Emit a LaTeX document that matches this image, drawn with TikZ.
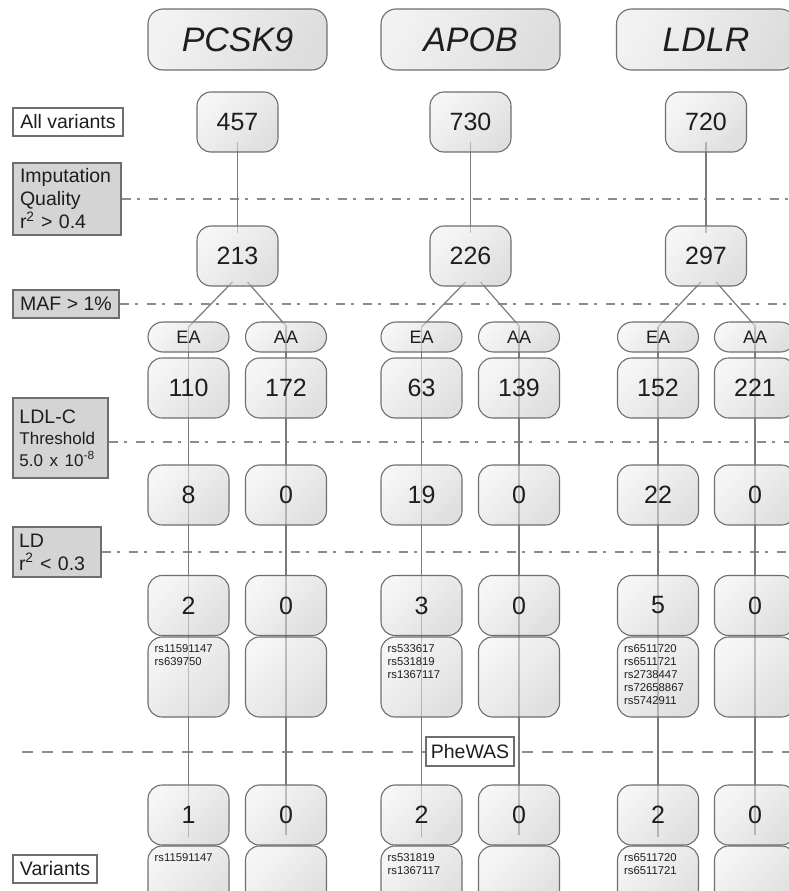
\documentclass[tikz,border=0pt]{standalone}
\usepackage{fontspec}
\setmainfont{Liberation Sans}
\usetikzlibrary{calc}
\definecolor{bd}{HTML}{6E6E6E}
\definecolor{cn}{HTML}{7A7A7A}
\definecolor{dl}{HTML}{8C8C8C}
\definecolor{bt}{HTML}{F0F0F0}
\definecolor{bm}{HTML}{E8E8E8}
\definecolor{bb}{HTML}{CCCCCC}
\definecolor{ht}{HTML}{F2F2F2}
\definecolor{hb}{HTML}{DDDDDD}
\definecolor{gf}{HTML}{D4D4D4}
\definecolor{tx}{HTML}{1E1E1E}
\newcommand\fsz[2]{\fontsize{#1}{#2}\selectfont}
\begin{document}
\begin{tikzpicture}[x=1pt,y=-1pt,
  box/.style={draw=bd, line width=1.1pt, rounded corners=14pt,
    top color=bt, middle color=bm, bottom color=bb, shading angle=45,
    fill opacity=0.62, text opacity=1, text=tx, inner sep=0pt},
  hdr/.style={draw=bd, line width=1.1pt, top color=ht, bottom color=hb, shading angle=60, text=tx, inner sep=0pt, rounded corners=15pt, minimum width=179pt, minimum height=61pt, font=\fsz{34}{40}\itshape},
  num/.style={box, minimum width=81pt, minimum height=60pt, font=\fsz{25}{30}},
  pill/.style={box, rounded corners=15pt, minimum width=81pt, minimum height=30pt, font=\fsz{18}{20}},
  rsbox/.style={box, minimum width=81pt, minimum height=80pt},
  rsbox2/.style={box, minimum width=81pt, minimum height=62pt},
  rslab/.style={anchor=north west, xshift=7pt, yshift=-8pt, align=left, inner sep=0pt, font=\fsz{11.3}{13}, text=tx},
  glab/.style={draw=bd, line width=1.1pt, fill=gf, text=tx, align=left, inner sep=0pt, font=\fsz{19.5}{23}},
  wlab/.style={draw=bd, line width=1.1pt, fill=white, text=tx, inner sep=0pt, font=\fsz{19.5}{23}},
  conn/.style={draw=cn, line width=1.2pt},
  dd/.style={draw=dl, line width=1.6pt, dash pattern=on 9pt off 6pt on 3pt off 9pt},
  ph/.style={draw=dl, line width=1.6pt, dash pattern=on 11pt off 9pt}]
\useasboundingbox (0,0) rectangle (789,891);
\clip (0,0) rectangle (789,891);
\coordinate (R) at (789,0);

% label boxes
\node[wlab, minimum width=110pt, minimum height=28pt] (allv) at (68,122) {All variants};
\node[glab, minimum width=108pt, minimum height=72pt, text width=94pt] (imp) at (67,199) {Imputation\\Quality\\r\textsuperscript{2} \textgreater{} 0.4};
\node[glab, minimum width=106pt, minimum height=28pt] (maf) at (66,304) {MAF \textgreater{} 1\%};
\node[glab, minimum width=95pt, minimum height=80pt, text width=82pt] (ldl) at (60.5,438) {LDL-C\\[-2pt]{\fsz{17}{20}Threshold}\\[-1pt]{\fsz{17}{20}5.0 x 10\textsuperscript{-8}}};
\node[glab, minimum width=88pt, minimum height=50pt, text width=76pt] (ld) at (57,552) {LD\\r\textsuperscript{2} \textless{} 0.3};
\node[wlab, minimum width=84pt, minimum height=28pt] (var) at (55,869) {Variants};
\coordinate (phl) at (22,752);

% dashed lines
\draw[dd] (imp.east) -- (imp.east -| R);
\draw[dd] (maf.east) -- (maf.east -| R);
\draw[dd] ($(ldl.east)+(0,4)$) -- ($(ldl.east -| R)+(0,4)$);
\draw[dd] (ld.east) -- (ld.east -| R);
\draw[ph] (phl) -- (phl -| R);

% headers
\node[hdr] (hP) at (237.5,39.5) {PCSK9};
\node[hdr] (hA) at (470.5,39.5) {APOB};
\node[hdr] (hL) at (706,39.5) {LDLR};

% connectors
\foreach \id/\cx/\ex/\ax in {P/237.5/188.5/286, A/470.5/421.5/519, L/706/658/755}{
  \draw[conn] (\cx,142) -- (\cx,233);
  \draw[conn] (\cx-5,282) -- (\ex,327);
  \draw[conn] (\cx+10,282) -- (\ax+1,327);
  \draw[conn] (\ex,327) -- (\ex,837);
  \draw[conn] (\ax,327) -- (\ax,835);
}

% PCSK9 column
\node[num] (allP) at (237.5,122) {457};
\node[num] (impP) at (237.5,256) {213};
\node[pill] (eaP) at (188.5,337) {EA};
\node[pill] (aaP) at (286,337) {AA};
\node[num] (e1P) at (188.5,388) {110};
\node[num] (a1P) at (286,388) {172};
\node[num] (e2P) at (188.5,495) {8};
\node[num] (a2P) at (286,495) {0};
\node[num] (e3P) at (188.5,605.5) {2};
\node[num] (a3P) at (286,605.5) {0};
\node[rsbox, label={[rslab]north west:rs11591147\\rs639750}] (ersP) at (188.5,677) {};
\node[rsbox] (arsP) at (286,677) {};
\node[num] (e4P) at (188.5,815) {1};
\node[num] (a4P) at (286,815) {0};
\node[rsbox2, label={[rslab]north west:rs11591147}] (ers2P) at (188.5,877) {};
\node[rsbox2] (ars2P) at (286,877) {};

% APOB column
\node[num] (allA) at (470.5,122) {730};
\node[num] (impA) at (470.5,256) {226};
\node[pill] (eaA) at (421.5,337) {EA};
\node[pill] (aaA) at (519,337) {AA};
\node[num] (e1A) at (421.5,388) {63};
\node[num] (a1A) at (519,388) {139};
\node[num] (e2A) at (421.5,495) {19};
\node[num] (a2A) at (519,495) {0};
\node[num] (e3A) at (421.5,605.5) {3};
\node[num] (a3A) at (519,605.5) {0};
\node[rsbox, label={[rslab]north west:rs533617\\rs531819\\rs1367117}] (ersA) at (421.5,677) {};
\node[rsbox] (arsA) at (519,677) {};
\node[num] (e4A) at (421.5,815) {2};
\node[num] (a4A) at (519,815) {0};
\node[rsbox2, label={[rslab]north west:rs531819\\rs1367117}] (ers2A) at (421.5,877) {};
\node[rsbox2] (ars2A) at (519,877) {};

% LDLR column
\node[num] (allL) at (706,122) {720};
\node[num] (impL) at (706,256) {297};
\node[pill] (eaL) at (658,337) {EA};
\node[pill] (aaL) at (755,337) {AA};
\node[num] (e1L) at (658,388) {152};
\node[num] (a1L) at (755,388) {221};
\node[num] (e2L) at (658,495) {22};
\node[num] (a2L) at (755,495) {0};
\node[num] (e3L) at (658,605.5) {5};
\node[num] (a3L) at (755,605.5) {0};
\node[rsbox, label={[rslab]north west:rs6511720\\rs6511721\\rs2738447\\rs72658867\\rs5742911}] (ersL) at (658,677) {};
\node[rsbox] (arsL) at (755,677) {};
\node[num] (e4L) at (658,815) {2};
\node[num] (a4L) at (755,815) {0};
\node[rsbox2, label={[rslab]north west:rs6511720\\rs6511721}] (ers2L) at (658,877) {};
\node[rsbox2] (ars2L) at (755,877) {};

% PheWAS label
\node[wlab, line width=1.3pt, minimum width=88pt, minimum height=29pt] (phe) at (470,751.5) {PheWAS};
\end{tikzpicture}
\end{document}
